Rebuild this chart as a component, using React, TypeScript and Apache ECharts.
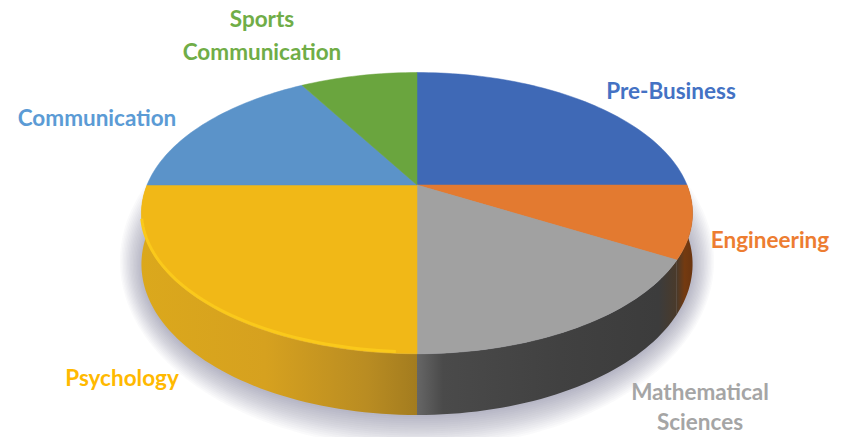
import React, { useEffect, useRef } from "react";
import * as echarts from "echarts";

const categories = ["Pre-Business", "Engineering", "Mathematical Sciences", "Psychology", "Communication", "Sports Communication"];
const shares = [25, 8.33, 16.67, 25, 16.67, 8.33];
const topColors = ["#3f69b6", "#e37a30", "#a1a1a1", "#f1b817", "#5b93c9", "#6aa53e"];
const labelColors = ["#4472c4", "#ed7d31", "#a5a5a5", "#ffb900", "#5b9bd5", "#70ad47"];
const labelLines = ["Pre-Business", "Engineering", "Mathematical\nSciences", "Psychology", "Communication", "Sports\nCommunication"];
const labelX = [671, 770, 700, 122, 97, 262];
const labelY = [90, 239, 406.5, 377, 117, 35];
const labelLeading = [33, 33, 30, 33, 33, 33];

const CX = 417, CY = 185, RX = 270, RY = 135, K = 0.2, WALL = 49;
const project = (frac: number, drop = 0): number[] => {
  const t = frac * 2 * Math.PI;
  const u = Math.sin(t), v = -Math.cos(t);
  const d = 1 - K * v;
  return [CX + (RX * u) / d, CY + (RY * v) / d + drop / d];
};
const arc = (a: number, b: number, drop = 0): number[][] => {
  const n = Math.max(2, Math.ceil((b - a) * 240));
  const pts: number[][] = [];
  for (let i = 0; i <= n; i++) pts.push(project(a + ((b - a) * i) / n, drop));
  return pts;
};

const ranges: number[][] = [];
{
  const total = shares.reduce((s, x) => s + x, 0);
  let acc = 0;
  shares.forEach((s) => {
    ranges.push([acc / total, (acc + s) / total]);
    acc += s;
  });
}

const grad = (stops: [number, string][]) => ({
  type: "linear", x: 0, y: 0, x2: 1, y2: 0,
  colorStops: stops.map(([offset, color]) => ({ offset, color })),
});
const wallFills: any[] = [
  null,
  grad([[0, "#4a3a2a"], [0.5, "#743a10"], [1, "#6a3510"]]),
  grad([[0, "#666666"], [0.1, "#4a4a4a"], [0.55, "#414141"], [0.93, "#3c3c3c"], [1, "#4a3a2a"]]),
  grad([[0, "#dba81c"], [0.45, "#d6a11f"], [0.82, "#b98c22"], [1, "#a37c1f"]]),
  null,
  null,
];

const data = categories.map((name, i) => ({ name, value: [i, ranges[i][0], ranges[i][1]] }));
const haloSteps = [0, 1, 2, 3, 4, 5, 6, 7, 8, 9, 10, 11, 12, 13, 14, 15].map((step) => ({ name: "halo", value: [step, 0, 1] }));

export default function App() {
  const ref = useRef<HTMLDivElement>(null);
  useEffect(() => {
    document.body.style.margin = "0";
    const chart = echarts.init(ref.current!, undefined, { renderer: "svg" });
    chart.setOption({
      animation: false,
      backgroundColor: "#ffffff",
      tooltip: { show: false },
      series: [
        {
          type: "custom",
          coordinateSystem: "none",
          z: 1,
          silent: true,
          data: haloSteps,
          renderItem: (params: any, api: any) => {
            const step = 15 - api.value(0);
            const points = arc(0, 1, WALL).map(([x, y]) => [
              CX + (x - CX) * (1 + step * 0.0052),
              285 + (y - 285) * (1 + step * 0.016) + 2,
            ]);
            return { type: "polygon", shape: { points }, style: { fill: "rgba(85,85,105,0.028)" } };
          },
        },
        {
          type: "custom",
          coordinateSystem: "none",
          z: 2,
          silent: true,
          data,
          renderItem: (params: any, api: any) => {
            const i = api.value(0);
            const fill = wallFills[i];
            if (!fill) return { type: "group", children: [] };
            const a = Math.max(api.value(1), 0.25), b = Math.min(api.value(2), 0.75);
            return {
              type: "polygon",
              shape: { points: [...arc(a, b), ...arc(a, b, WALL).reverse()] },
              style: { fill },
            };
          },
        },
        {
          type: "custom",
          coordinateSystem: "none",
          z: 3,
          silent: true,
          data,
          renderItem: (params: any, api: any) => {
            const i = api.value(0);
            return {
              type: "polygon",
              shape: { points: [[CX, CY], ...arc(api.value(1), api.value(2))] },
              style: { fill: topColors[i], stroke: topColors[i], lineWidth: 0.5 },
            };
          },
        },
        {
          type: "custom",
          coordinateSystem: "none",
          z: 4,
          silent: true,
          data: [data[3]],
          renderItem: (params: any, api: any) => ({
            type: "polyline",
            shape: { points: arc(api.value(1) + 0.01, api.value(2) - 0.04, -1.5) },
            style: { fill: "none", stroke: "#fac91b", lineWidth: 3 },
          }),
        },
      ],
      graphic: labelLines.map((text, i) => ({
        type: "text",
        x: labelX[i],
        y: labelY[i],
        z: 10,
        style: {
          text,
          fill: labelColors[i],
          font: "bold 22.5px Lato",
          lineHeight: labelLeading[i],
          align: "center",
          verticalAlign: "middle",
        },
      })),
    });
    return () => chart.dispose();
  }, []);
  return <div ref={ref} style={{ width: 850, height: 437 }} />;
}
